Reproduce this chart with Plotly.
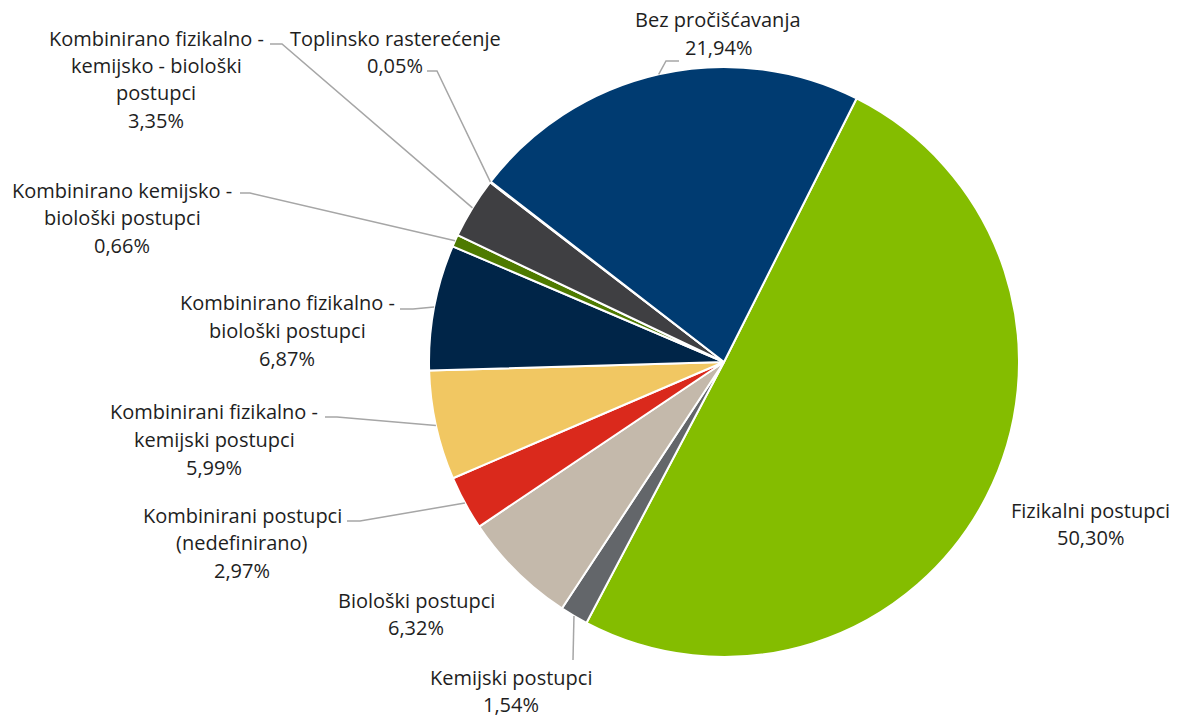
import math
import plotly.graph_objects as go

W, H = 1177, 717

# ---- data ----
categories = [
    "Fizikalni postupci",
    "Kemijski postupci",
    "Biološki postupci",
    "Kombinirani postupci (nedefinirano)",
    "Kombinirani fizikalno - kemijski postupci",
    "Kombinirano fizikalno - biološki postupci",
    "Kombinirano kemijsko - biološki postupci",
    "Kombinirano fizikalno - kemijsko - biološki postupci",
    "Toplinsko rasterećenje",
    "Bez pročišćavanja",
]
values = [50.30, 1.54, 6.32, 2.97, 5.99, 6.87, 0.66, 3.35, 0.05, 21.94]
label_lines = [
    ["Fizikalni postupci"],
    ["Kemijski postupci"],
    ["Biološki postupci"],
    ["Kombinirani postupci", "(nedefinirano)"],
    ["Kombinirani fizikalno -", "kemijski postupci"],
    ["Kombinirano fizikalno -", "biološki postupci"],
    ["Kombinirano kemijsko -", "biološki postupci"],
    ["Kombinirano fizikalno -", "kemijsko - biološki", "postupci"],
    ["Toplinsko rasterećenje"],
    ["Bez pročišćavanja"],
]
colors = ["#84BD00", "#63666A", "#C4B9AB", "#DA291C", "#F1C762",
          "#002548", "#4E7A00", "#3F3F42", "#9A9A9A", "#003B71"]

# ---- layout (pixel positions of label blocks and leader elbows) ----
CX, CY, R = 724, 362, 295
ROTATION = 26.7
LINE_GAP = 27.5
# (center x, first-line center y, leader points from label side or None)
label_pos = [
    (1090, 510, None),
    (511, 677, [(573, 660)]),
    (416, 600, None),
    (242, 515, [(347, 521), (360, 521)]),
    (214, 412, [(325, 417), (337, 417)]),
    (287, 303, [(400, 309), (413, 309)]),
    (122, 190, [(240, 193), (250, 193)]),
    (156, 38, [(270, 44), (282, 44)]),
    (395, 38, [(427, 71), (437, 71)]),
    (718, 20, [(679, 61), (666, 61)]),
]

fig = go.Figure(go.Pie(
    labels=categories,
    values=values,
    sort=False,
    direction="clockwise",
    rotation=ROTATION,
    textinfo="none",
    hoverinfo="label+percent",
    marker=dict(colors=colors, line=dict(color="white", width=2)),
    showlegend=False,
    domain=dict(x=[(CX - R) / W, (CX + R) / W],
                y=[(H - CY - R) / H, (H - CY + R) / H]),
))

def px(x):
    return x / W

def py(y):
    return 1 - y / H

annotations = []
shapes = []
total = sum(values)
cum = 0.0
for cat_lines, v, (lx, ly, leader) in zip(label_lines, values, label_pos):
    mid = ROTATION + (cum + v / 2) / total * 360
    cum += v
    pct = f"{v:.2f}%".replace(".", ",")
    lines = cat_lines + [pct]
    for i, t in enumerate(lines):
        annotations.append(dict(
            x=px(lx), y=py(ly + i * LINE_GAP), xref="paper", yref="paper",
            text=t, showarrow=False, xanchor="center", yanchor="middle",
            font=dict(family="Open Sans, Noto Sans, sans-serif", size=20, color="#1E1E1E"),
        ))
    if leader:
        a = math.radians(mid)
        ex, ey = CX + R * math.sin(a), CY - R * math.cos(a)
        pts = leader + [(ex, ey)]
        path = "M " + " L ".join(f"{px(x):.5f},{py(y):.5f}" for x, y in pts)
        shapes.append(dict(type="path", path=path, xref="paper", yref="paper",
                           line=dict(color="#A6A6A6", width=1.5)))

fig.update_layout(
    width=W, height=H,
    margin=dict(l=0, r=0, t=0, b=0),
    paper_bgcolor="white", plot_bgcolor="white",
    annotations=annotations, shapes=shapes,
)

fig.write_html("out.html", config={"displayModeBar": False},
               post_script="document.body.style.margin='0px';document.body.style.padding='0px';")
